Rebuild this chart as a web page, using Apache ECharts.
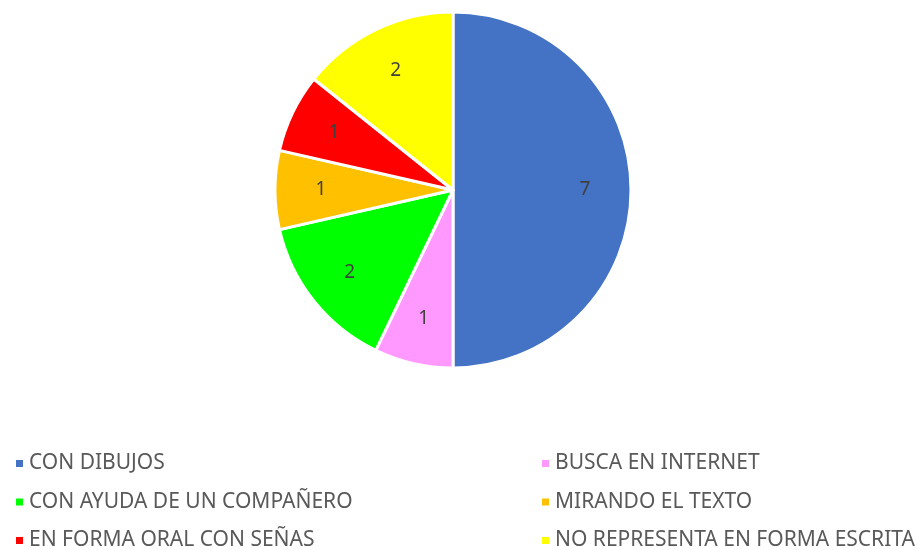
<!DOCTYPE html>
<html>
<head>
<meta charset="utf-8">
<script src="https://cdn.jsdelivr.net/npm/echarts@6/dist/echarts.min.js"></script>
<style>
  html, body { margin: 0; padding: 0; background: #fff; }
  #box1 { width: 917px; height: 550px; }
</style>
</head>
<body>
<div id="box1"></div>
<script>
var pieChart = echarts.init(document.getElementById('box1'));

var categories = ['CON DIBUJOS', 'BUSCA EN INTERNET', 'CON AYUDA DE UN COMPAÑERO', 'MIRANDO EL TEXTO', 'EN FORMA ORAL CON SEÑAS', 'NO REPRESENTA EN FORMA ESCRITA'];
var values = [7, 1, 2, 1, 1, 2];
var colors = ['#4472C4', '#FF99FF', '#00FF00', '#FFC000', '#FF0000', '#FFFF00'];

var pieData = categories.map(function(name, i) {
  return { name: name, value: values[i], itemStyle: { color: colors[i] } };
});

var legendText = {
  fontFamily: 'Noto Sans',
  fontSize: 21,
  color: '#595959'
};

// one legend per item: two columns, three rows, in data order (left, right, left, ...)
var legends = categories.map(function(name, i) {
  return {
    data: [name],
    left: i % 2 === 0 ? 14 : 540,
    top: 453 + Math.floor(i / 2) * 38.5,
    padding: 0,
    icon: 'rect',
    itemWidth: 9,
    itemHeight: 9,
    textStyle: legendText
  };
});

pieChart.setOption({
  animation: false,
  color: colors,
  legend: legends,
  series: [{
    name: 'main',
    type: 'pie',
    center: [453, 190],
    radius: [0, 178],
    startAngle: 90,
    clockwise: true,
    data: pieData,
    itemStyle: {
      borderColor: '#fff',
      borderWidth: 3
    },
    label: { show: false },
    labelLine: { show: false },
    emphasis: { disabled: true }
  }, {
    // label-only ring so numbers sit further out like the original
    name: 'labels',
    type: 'pie',
    center: [453, 190],
    radius: [80, 178],
    startAngle: 90,
    clockwise: true,
    silent: true,
    legendHoverLink: false,
    data: categories.map(function(name, i) {
      return { name: name + ' ', value: values[i] };
    }),
    itemStyle: { color: 'rgba(0,0,0,0)' },
    label: {
      show: true,
      position: 'inside',
      formatter: '{c}',
      fontFamily: 'Noto Sans',
      fontSize: 19,
      color: '#404040'
    },
    labelLine: { show: false },
    emphasis: { disabled: true }
  }]
});
</script>
</body>
</html>
